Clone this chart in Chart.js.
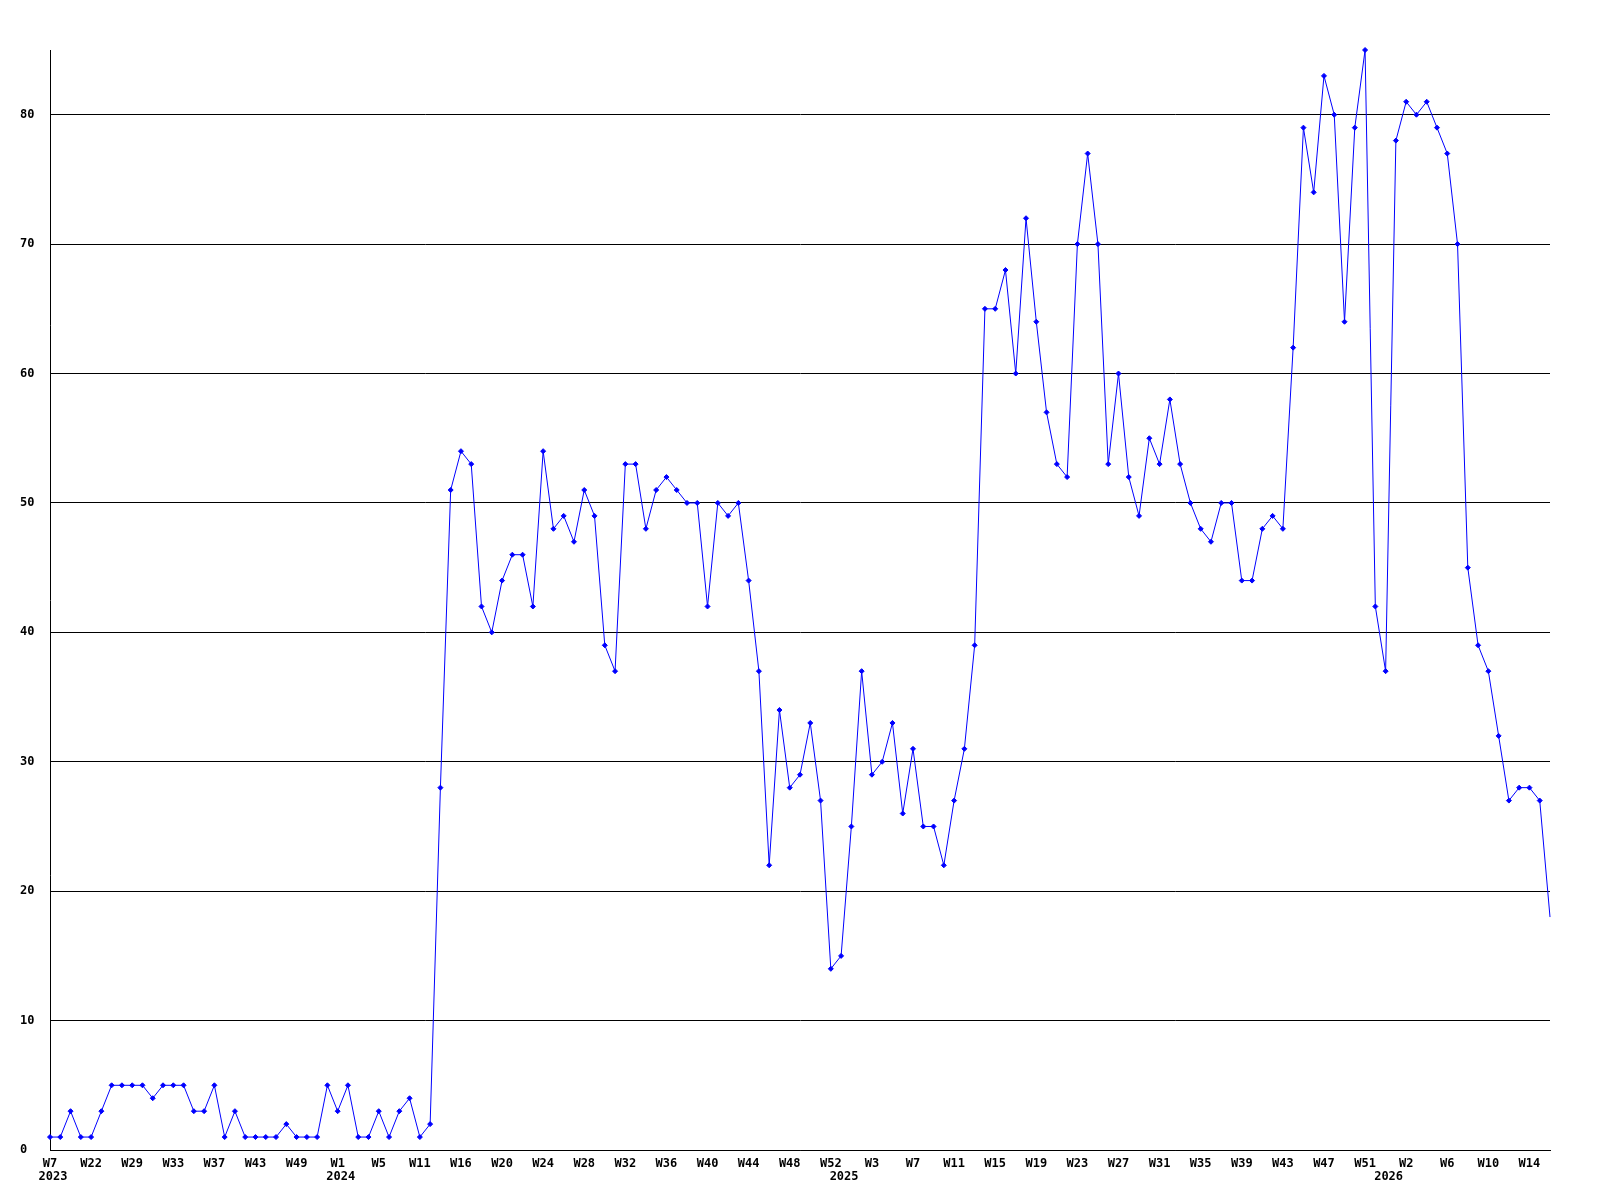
<!DOCTYPE html>
<html>
<head>
<meta charset="utf-8">
<script src="https://cdn.jsdelivr.net/npm/chart.js@4.4.1/dist/chart.umd.min.js"></script>
<style>
body { margin: 0; background: #fff; }
</style>
</head>
<body>
<canvas id="myChart" width="1600" height="1200"></canvas>
<script>
// one label every 4 weeks on the x axis
var tickLabels = ['W7','W22','W29','W33','W37','W43','W49','W1','W5','W11','W16','W20','W24',
    'W28','W32','W36','W40','W44','W48','W52','W3','W7','W11','W15','W19','W23','W27',
    'W31','W35','W39','W43','W47','W51','W2','W6','W10','W14'];
var yearLabels = ['2023','2024','2025','2026'];
var yearAt = [0, 28, 77, 130];   // point index where the year starts

var values = [1,1,3,1,1,3,5,5,5,5,4,5,5,5,3,3,5,1,3,1,1,1,1,2,1,1,1,5,3,5,1,1,3,1,3,4,1,2,
    28,
    51,54,53,42,40,44,46,46,42,54,
    48,49,47,51,49,39,37,53,53,48,
    51,52,51,50,50,42,50,49,50,44,
    37,22,34,28,29,33,27,14,15,25,
    37,29,30,33,26,31,25,25,22,27,
    31,39,65,65,68,60,72,64,57,53,
    52,70,77,70,53,60,52,49,55,53,
    58,53,50,48,47,50,50,44,44,48,
    49,48,62,79,74,83,80,64,79,85,
    42,37,78,81,80,81,79,77,70,45,
    39,37,32,27,28,28,27,18];

var labels = [];
for (var i = 0; i < values.length; i++) {
    labels.push(i % 4 === 0 ? tickLabels[i / 4] : '');
}

var tickFont = { family: '"DejaVu Sans Mono", monospace', size: 12, weight: 'bold' };

var yearPlugin = {
    id: 'years',
    afterDraw: function(chart) {
        var c = chart.ctx;
        var xs = chart.scales.x;
        c.save();
        c.font = 'bold 12px "DejaVu Sans Mono", monospace';
        c.fillStyle = '#000';
        c.textAlign = 'center';
        c.textBaseline = 'middle';
        for (var k = 0; k < yearLabels.length; k++) {
            c.fillText(yearLabels[k], xs.getPixelForValue(yearAt[k]) + 3, xs.top + 27);
        }
        c.restore();
    }
};

var ctx = document.getElementById('myChart');
var myChart = new Chart(ctx, {
    type: 'line',
    data: {
        labels: labels,
        datasets: [{
            data: values,
            borderColor: '#0000ff',
            backgroundColor: '#0000ff',
            borderWidth: 1,
            tension: 0,
            fill: false,
            clip: false,
            pointStyle: 'rectRot',
            pointRadius: function(c) { return c.dataIndex === values.length - 1 ? 0 : 2.5; },
            pointBorderWidth: 1
        }]
    },
    options: {
        responsive: false,
        animation: false,
        layout: { padding: { left: 20, right: 50, top: 50, bottom: 0 } },
        plugins: { legend: { display: false }, tooltip: { enabled: false } },
        scales: {
            x: {
                type: 'category',
                offset: false,
                grid: { display: false },
                border: { color: '#000', width: 1 },
                ticks: { autoSkip: false, maxRotation: 0, minRotation: 0, padding: -1, color: '#000', font: tickFont },
                afterFit: function(s) { s.height = 50; }
            },
            y: {
                min: 0,
                max: 85,
                grid: { color: '#000', drawTicks: false },
                border: { color: '#000', width: 1 },
                ticks: { stepSize: 10, includeBounds: false, crossAlign: 'far', padding: 0, color: '#000', font: tickFont },
                afterFit: function(s) { s.width = 30; }
            }
        }
    },
    plugins: [yearPlugin]
});
</script>
</body>
</html>
